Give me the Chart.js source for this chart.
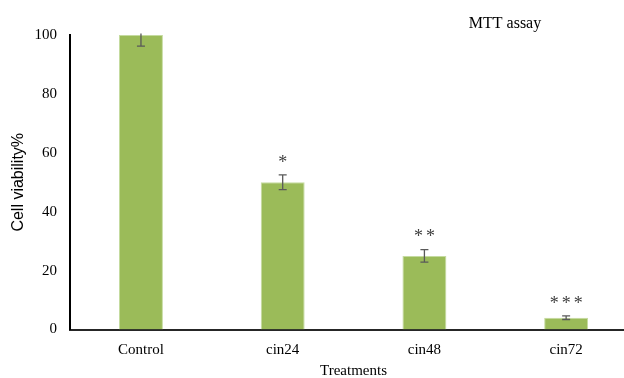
<!DOCTYPE html>
<html>
<head>
<meta charset="utf-8">
<script src="https://cdn.jsdelivr.net/npm/chart.js@4"></script>
<style>
  html, body { margin: 0; padding: 0; background: #fff; overflow: hidden; }
  #wrap { width: 640px; height: 378px; }
</style>
</head>
<body>
<div id="wrap"><canvas id="mtt"></canvas></div>
<script>
// valores
const treatments = ['Control', 'cin24', 'cin48', 'cin72'];
const viability = [100, 50, 25, 4];
const errors = [3.8, 2.5, 2.1, 0.6];
const stars = ['', '*', '**', '***'];
const yTicks = [0, 20, 40, 60, 80, 100];

const serif = "'Liberation Serif', 'Times New Roman', serif";

// barras de erro + asteriscos + título
const extras = {
  id: 'extras',
  afterDatasetsDraw(chart) {
    const ctx = chart.ctx;
    const x = chart.scales.x, y = chart.scales.y;
    ctx.save();
    ctx.strokeStyle = '#595959';
    ctx.lineWidth = 1.3;
    viability.forEach((v, i) => {
      const cx = x.getPixelForValue(i);
      const top = y.getPixelForValue(Math.min(v + errors[i], 100.5));
      const bot = y.getPixelForValue(v - errors[i]);
      ctx.beginPath();
      ctx.moveTo(cx, top); ctx.lineTo(cx, bot);
      if (v + errors[i] <= 100) { ctx.moveTo(cx - 4, top); ctx.lineTo(cx + 4, top); }
      ctx.moveTo(cx - 4, bot); ctx.lineTo(cx + 4, bot);
      ctx.stroke();
      // asteriscos, um por um
      const n = stars[i].length;
      ctx.fillStyle = '#404040';
      ctx.font = '18px ' + serif;
      ctx.textAlign = 'center';
      ctx.textBaseline = 'middle';
      const sy = y.getPixelForValue(v + errors[i]) - 12;
      for (let k = 0; k < n; k++) {
        ctx.fillText('*', cx + (k - (n - 1) / 2) * 12, sy);
      }
    });
    ctx.fillStyle = '#000';
    ctx.font = '16px ' + serif;
    ctx.textAlign = 'center';
    ctx.textBaseline = 'middle';
    ctx.fillText('MTT assay', 505, 24);
    ctx.restore();
  }
};

new Chart(document.getElementById('mtt'), {
  type: 'bar',
  data: {
    labels: treatments,
    datasets: [{
      data: viability,
      backgroundColor: '#9bbb59',
      borderColor: '#c5dba0',
      borderWidth: 1,
      barPercentage: 0.31,
      categoryPercentage: 1
    }]
  },
  options: {
    responsive: true,
    maintainAspectRatio: false,
    animation: false,
    layout: { padding: { top: 35, right: 3, left: 10, bottom: 0 } },
    plugins: { legend: { display: false }, tooltip: { enabled: false } },
    scales: {
      x: {
        grid: { display: false, drawTicks: false },
        border: { color: '#262626', width: 2 },
        ticks: { color: '#000', font: { family: serif, size: 15 }, padding: 12 },
        title: { display: true, text: 'Treatments', color: '#000', font: { family: serif, size: 15, lineHeight: 0.9 }, padding: { top: -7, bottom: 0 } }
      },
      y: {
        min: 0, max: 100,
        afterBuildTicks: (s) => { s.ticks = yTicks.map(v => ({ value: v })); },
        grid: { display: false, drawTicks: false },
        border: { color: '#000', width: 2 },
        ticks: { color: '#000', font: { family: serif, size: 15 }, padding: 13 },
        title: { display: true, text: 'Cell viability%', color: '#000', font: { family: "'Liberation Sans', Arial, sans-serif", size: 16, lineHeight: 1.1 }, padding: { top: 0, bottom: -6 } }
      }
    }
  },
  plugins: [extras]
});
</script>
</body>
</html>
